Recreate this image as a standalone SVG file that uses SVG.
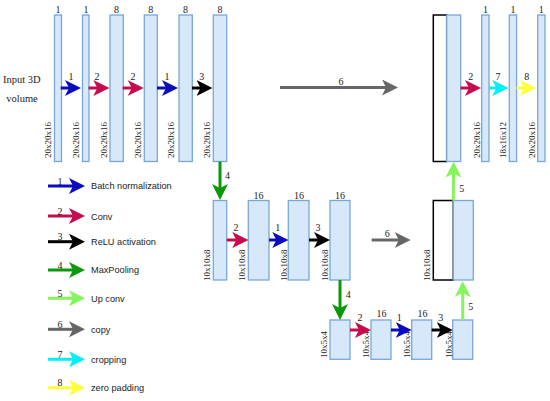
<svg xmlns="http://www.w3.org/2000/svg" width="550" height="401" viewBox="0 0 550 401">
<style>
.box{fill:#d6e8fa;stroke:#7aa6d6;stroke-width:1.3}
.blk{fill:#ffffff;stroke:#000000;stroke-width:1.5}
.n{font-family:"Liberation Serif",serif;font-size:10px;fill:#222;text-anchor:middle}
.r{font-family:"Liberation Serif",serif;font-size:9px;fill:#222}
.t{font-family:"Liberation Serif",serif;font-size:10.5px;fill:#222}
.lg{font-family:"Liberation Sans",Arial,sans-serif;font-size:9.2px;fill:#222}
.a{stroke-width:3;fill:none}
.c1{stroke:#0b0bbf}.c2{stroke:#c70b4f}.c3{stroke:#000}.c4{stroke:#0a990a}.c5{stroke:#86f55c}.c6{stroke:#666}.c7{stroke:#00f0f8}.c8{stroke:#ffff3c}
</style>
<defs>
<marker id="m1" markerUnits="userSpaceOnUse" markerWidth="16" markerHeight="16" viewBox="0 0 16 16" refX="6" refY="8" orient="auto"><path d="M0,0 L16,8 L0,16 L4,8 Z" fill="#0b0bbf"/></marker>
<marker id="m2" markerUnits="userSpaceOnUse" markerWidth="16" markerHeight="16" viewBox="0 0 16 16" refX="6" refY="8" orient="auto"><path d="M0,0 L16,8 L0,16 L4,8 Z" fill="#c70b4f"/></marker>
<marker id="m3" markerUnits="userSpaceOnUse" markerWidth="16" markerHeight="16" viewBox="0 0 16 16" refX="6" refY="8" orient="auto"><path d="M0,0 L16,8 L0,16 L4,8 Z" fill="#000"/></marker>
<marker id="m4" markerUnits="userSpaceOnUse" markerWidth="16" markerHeight="16" viewBox="0 0 16 16" refX="6" refY="8" orient="auto"><path d="M0,0 L16,8 L0,16 L4,8 Z" fill="#0a990a"/></marker>
<marker id="m5" markerUnits="userSpaceOnUse" markerWidth="16" markerHeight="16" viewBox="0 0 16 16" refX="6" refY="8" orient="auto"><path d="M0,0 L16,8 L0,16 L4,8 Z" fill="#86f55c"/></marker>
<marker id="m6" markerUnits="userSpaceOnUse" markerWidth="16" markerHeight="16" viewBox="0 0 16 16" refX="6" refY="8" orient="auto"><path d="M0,0 L16,8 L0,16 L4,8 Z" fill="#666"/></marker>
<marker id="m7" markerUnits="userSpaceOnUse" markerWidth="16" markerHeight="16" viewBox="0 0 16 16" refX="6" refY="8" orient="auto"><path d="M0,0 L16,8 L0,16 L4,8 Z" fill="#00f0f8"/></marker>
<marker id="m8" markerUnits="userSpaceOnUse" markerWidth="16" markerHeight="16" viewBox="0 0 16 16" refX="6" refY="8" orient="auto"><path d="M0,0 L16,8 L0,16 L4,8 Z" fill="#ffff3c"/></marker>
</defs>

<text class="t" x="3" y="83">Input 3D</text>
<text class="t" x="22" y="102" text-anchor="middle">volume</text>

<!-- top row -->
<g id="t1"><rect class="box" x="54.5" y="15" width="7" height="146.5"/><text class="n" x="58" y="13">1</text><text class="r" transform="translate(51,158) rotate(-90)">20x20x16</text></g>
<g id="t2"><rect class="box" x="82.5" y="15" width="6.5" height="146.5"/><text class="n" x="86" y="13">1</text><text class="r" transform="translate(79,158) rotate(-90)">20x20x16</text></g>
<g id="t3"><rect class="box" x="110" y="15" width="13.3" height="146.5"/><text class="n" x="116.5" y="13">8</text><text class="r" transform="translate(106.5,158) rotate(-90)">20x20x16</text></g>
<g id="t4"><rect class="box" x="144.3" y="15" width="13" height="146.5"/><text class="n" x="150.8" y="13">8</text><text class="r" transform="translate(140.5,158) rotate(-90)">20x20x16</text></g>
<g id="t5"><rect class="box" x="179" y="15" width="13.3" height="146.5"/><text class="n" x="185.5" y="13">8</text><text class="r" transform="translate(174,158) rotate(-90)">20x20x16</text></g>
<g id="t6"><rect class="box" x="213.3" y="15" width="13.4" height="146.5"/><text class="n" x="220" y="13">8</text><text class="r" transform="translate(209.5,158) rotate(-90)">20x20x16</text></g>

<g id="tr1"><rect class="blk" x="433.3" y="15" width="13.4" height="146.5"/><rect class="box" x="446.7" y="15" width="14" height="146.5"/></g>
<g id="tr2"><rect class="box" x="481.7" y="15" width="7.3" height="146.5"/><text class="n" x="485.5" y="13">1</text><text class="r" transform="translate(480,158) rotate(-90)">20x20x16</text></g>
<g id="tr3"><rect class="box" x="509.3" y="15" width="7.3" height="146.5"/><text class="n" x="513" y="13">1</text><text class="r" transform="translate(506.3,158) rotate(-90)">18x16x12</text></g>
<g id="tr4"><rect class="box" x="537.7" y="15" width="7.3" height="146.5"/><text class="n" x="541.3" y="13">1</text><text class="r" transform="translate(535,158) rotate(-90)">20x20x16</text></g>

<!-- middle row -->
<g id="m_1"><rect class="box" x="213.3" y="200.5" width="13.4" height="79.5"/><text class="r" transform="translate(210,281) rotate(-90)">10x10x8</text></g>
<g id="m_2"><rect class="box" x="248.3" y="200.5" width="20.7" height="79.5"/><text class="n" x="258.5" y="198.5">16</text><text class="r" transform="translate(245,281) rotate(-90)">10x10x8</text></g>
<g id="m_3"><rect class="box" x="288.3" y="200.5" width="20.7" height="79.5"/><text class="n" x="299" y="198.5">16</text><text class="r" transform="translate(286.5,281) rotate(-90)">10x10x8</text></g>
<g id="m_4"><rect class="box" x="330" y="200.5" width="20" height="79.5"/><text class="n" x="340" y="198.5">16</text><text class="r" transform="translate(328,281) rotate(-90)">10x10x8</text></g>
<g id="m_5"><rect class="blk" x="433.3" y="200.5" width="20" height="79.5"/><rect class="box" x="453.3" y="200.5" width="20" height="79.5"/><text class="r" transform="translate(430,281) rotate(-90)">10x10x8</text></g>

<!-- bottom row -->
<g id="b1"><rect class="box" x="330" y="320" width="20" height="39.3"/><text class="r" transform="translate(326.5,358) rotate(-90)">10x5x4</text></g>
<g id="b2"><rect class="box" x="371" y="320" width="20" height="39.3"/><text class="n" x="381.5" y="316.5">16</text><text class="r" transform="translate(369,358) rotate(-90)">10x5x4</text></g>
<g id="b3"><rect class="box" x="411.7" y="320" width="20" height="39.3"/><text class="n" x="422.5" y="316.5">16</text><text class="r" transform="translate(409.8,358) rotate(-90)">10x5x4</text></g>
<g id="b4"><rect class="box" x="452.7" y="320" width="20" height="39.3"/><text class="r" transform="translate(451.5,358) rotate(-90)">10x5x4</text></g>

<g id="connectors">
<line class="a c1" x1="60.7" y1="88" x2="71" y2="88" marker-end="url(#m1)"/><text class="n" x="71" y="79.5">1</text>
<line class="a c2" x1="88.5" y1="88" x2="99.3" y2="88" marker-end="url(#m2)"/><text class="n" x="97" y="79.5">2</text>
<line class="a c2" x1="122.7" y1="88" x2="133.7" y2="88" marker-end="url(#m2)"/><text class="n" x="133" y="79.5">2</text>
<line class="a c1" x1="157" y1="88" x2="168" y2="88" marker-end="url(#m1)"/><text class="n" x="167" y="79.5">1</text>
<line class="a c3" x1="192" y1="88" x2="202.5" y2="88" marker-end="url(#m3)"/><text class="n" x="201.7" y="79.5">3</text>
<line class="a c6" x1="280" y1="87.5" x2="388" y2="87.5" marker-end="url(#m6)"/><text class="n" x="341" y="85">6</text>
<line class="a c2" x1="460.5" y1="88" x2="471" y2="88" marker-end="url(#m2)"/><text class="n" x="470.7" y="79.5">2</text>
<line class="a c7" x1="489" y1="88" x2="498.3" y2="88" marker-end="url(#m7)"/><text class="n" x="498" y="79.5">7</text>
<line class="a c8" x1="516.6" y1="88" x2="526" y2="88" marker-end="url(#m8)"/><text class="n" x="526.7" y="79.5">8</text>

<line class="a c4" x1="220" y1="161.5" x2="220" y2="190" marker-end="url(#m4)"/><text class="n" x="227.5" y="178.5">4</text>
<line class="a c2" x1="226.7" y1="240" x2="238.3" y2="240" marker-end="url(#m2)"/><text class="n" x="236" y="230.5">2</text>
<line class="a c1" x1="269" y1="240" x2="278.3" y2="240" marker-end="url(#m1)"/><text class="n" x="277.7" y="230.5">1</text>
<line class="a c3" x1="309" y1="240" x2="320" y2="240" marker-end="url(#m3)"/><text class="n" x="318" y="230.5">3</text>
<line class="a c6" x1="371.7" y1="240" x2="400.7" y2="240" marker-end="url(#m6)"/><text class="n" x="387.3" y="236.5">6</text>
<line class="a c5" x1="453.3" y1="200.5" x2="453.5" y2="171.5" marker-end="url(#m5)"/><text class="n" x="461.7" y="191.5">5</text>

<line class="a c4" x1="340" y1="280" x2="340" y2="310" marker-end="url(#m4)"/><text class="n" x="348.3" y="297.5">4</text>
<line class="a c2" x1="350" y1="330" x2="361" y2="330" marker-end="url(#m2)"/><text class="n" x="360" y="321">2</text>
<line class="a c1" x1="391" y1="330" x2="401.7" y2="330" marker-end="url(#m1)"/><text class="n" x="399.3" y="321">1</text>
<line class="a c3" x1="431.7" y1="330" x2="442.7" y2="330" marker-end="url(#m3)"/><text class="n" x="440.7" y="321">3</text>
<line class="a c5" x1="462.7" y1="320" x2="462.7" y2="291" marker-end="url(#m5)"/><text class="n" x="470.7" y="310">5</text>
</g>

<!-- legend -->
<g id="legend">
<line class="a c1" x1="48" y1="186" x2="75" y2="186" marker-end="url(#m1)"/><text class="n" x="60" y="184.5">1</text><text class="lg" x="91" y="189.3">Batch normalization</text>
<line class="a c2" x1="48" y1="216" x2="75" y2="216" marker-end="url(#m2)"/><text class="n" x="60" y="214.5">2</text><text class="lg" x="91" y="219.5">Conv</text>
<line class="a c3" x1="48" y1="241.7" x2="75" y2="241.7" marker-end="url(#m3)"/><text class="n" x="60" y="240.2">3</text><text class="lg" x="91" y="245">ReLU activation</text>
<line class="a c4" x1="48" y1="270" x2="75" y2="270" marker-end="url(#m4)"/><text class="n" x="60" y="268.5">4</text><text class="lg" x="91" y="273.3">MaxPooling</text>
<line class="a c5" x1="48" y1="298.3" x2="75" y2="298.3" marker-end="url(#m5)"/><text class="n" x="60" y="296.8">5</text><text class="lg" x="91" y="301.6">Up conv</text>
<line class="a c6" x1="48" y1="329.3" x2="75" y2="329.3" marker-end="url(#m6)"/><text class="n" x="60" y="327.8">6</text><text class="lg" x="91" y="332.6">copy</text>
<line class="a c7" x1="48" y1="359.3" x2="75" y2="359.3" marker-end="url(#m7)"/><text class="n" x="60" y="357.8">7</text><text class="lg" x="91" y="362.6">cropping</text>
<line class="a c8" x1="48" y1="387.7" x2="75" y2="387.7" marker-end="url(#m8)"/><text class="n" x="60" y="386.2">8</text><text class="lg" x="91" y="391">zero padding</text>
</g>
</svg>
